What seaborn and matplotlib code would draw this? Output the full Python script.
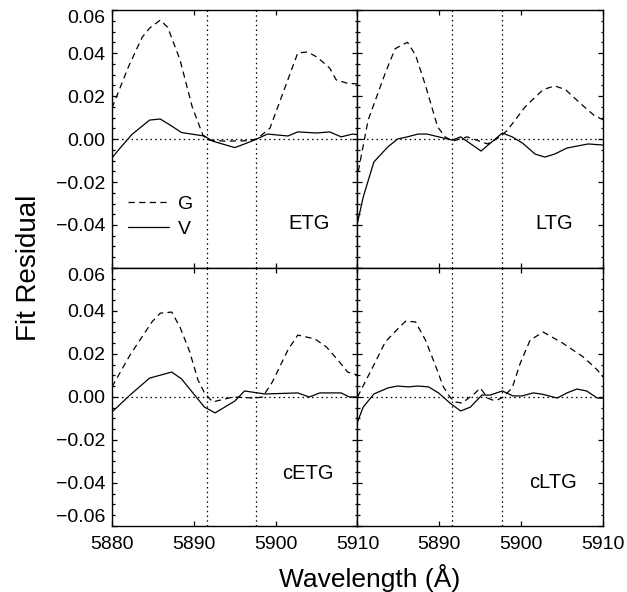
import numpy as np
import pandas as pd
import matplotlib
matplotlib.use("Agg")
import matplotlib.pyplot as plt
import seaborn as sns
from matplotlib.ticker import MultipleLocator, FuncFormatter

# --- data (wavelength in A, fit residual) ---
panels = ['ETG', 'LTG', 'cETG', 'cLTG']

etg_v_wl = [5880.0, 5880.6, 5882.4, 5884.6, 5885.9, 5887.1, 5888.5, 5890.4, 5891.3, 5892.3, 5895.0,
            5896.2, 5897.4, 5899.0, 5901.5, 5902.7, 5905.0, 5906.6, 5908.0, 5909.4, 5910.0]
etg_v = [-0.0088, -0.006, 0.002, 0.0088, 0.0093, 0.0065, 0.003, 0.0019, 0.0014, -0.001, -0.0040,
         -0.0023, -0.0005, 0.0023, 0.0014, 0.0033, 0.0028, 0.0033, 0.001, 0.0023, 0.002]
etg_g_wl = [5880.0, 5882.0, 5883.7, 5884.6, 5885.9, 5886.8, 5888.3, 5889.8, 5891.1, 5891.7, 5893.8,
            5896.5, 5897.7, 5899.3, 5902.7, 5903.9, 5905.1, 5906.6, 5907.4, 5908.7, 5910.0]
etg_g = [0.0144, 0.0335, 0.0474, 0.0516, 0.0553, 0.052, 0.037, 0.015, 0.0019, -0.0005, -0.001,
         -0.0008, 0.0, 0.005, 0.040, 0.0405, 0.038, 0.033, 0.0275, 0.026, 0.0256]

ltg_v_wl = [5880.0, 5880.7, 5882.0, 5883.7, 5884.9, 5886.1, 5887.4, 5888.5, 5889.9, 5891.6, 5892.6,
            5895.1, 5897.7, 5898.9, 5900.2, 5901.7, 5902.9, 5904.1, 5905.6, 5908.2, 5910.0]
ltg_v = [-0.039, -0.027, -0.0107, -0.0037, 0.0, 0.001, 0.0023, 0.0023, 0.001, -0.0005, 0.001,
         -0.0056, 0.0028, 0.001, -0.002, -0.007, -0.0084, -0.007, -0.0042, -0.0023, -0.0028]
ltg_g_wl = [5880.1, 5881.3, 5883.4, 5884.6, 5886.1, 5887.1, 5888.3, 5889.8, 5890.7, 5891.6, 5893.4,
            5895.9, 5897.4, 5898.3, 5900.5, 5902.7, 5904.1, 5905.4, 5907.4, 5909.0, 5910.0]
ltg_g = [-0.015, 0.0088, 0.0307, 0.042, 0.045, 0.039, 0.025, 0.0056, 0.001, -0.001, 0.001,
         -0.0023, 0.001, 0.004, 0.015, 0.023, 0.0247, 0.023, 0.016, 0.0107, 0.009]

cetg_v_wl = [5880.0, 5882.2, 5884.6, 5887.3, 5888.5, 5890.1, 5891.3, 5892.6, 5895.0, 5896.2, 5898.7,
             5902.7, 5904.1, 5905.4, 5908.0, 5909.0, 5910.0]
cetg_v = [-0.007, 0.0009, 0.0088, 0.0116, 0.0084, 0.0009, -0.0047, -0.0074, -0.0019, 0.0028, 0.0014,
          0.0019, 0.0, 0.0019, 0.0019, 0.0, 0.0]
cetg_g_wl = [5880.0, 5882.2, 5884.9, 5885.9, 5887.3, 5888.3, 5889.5, 5890.5, 5891.3, 5892.3, 5894.8,
             5897.4, 5898.4, 5899.6, 5901.5, 5902.7, 5904.8, 5906.2, 5907.6, 5908.8, 5910.0]
cetg_g = [0.0047, 0.0195, 0.035, 0.039, 0.0395, 0.0326, 0.021, 0.008, 0.0019, -0.0023, 0.0,
          -0.0005, 0.0, 0.007, 0.0219, 0.0288, 0.027, 0.0233, 0.0172, 0.0116, 0.0102]

cltg_v_wl = [5880.0, 5880.7, 5882.0, 5883.7, 5884.9, 5886.2, 5887.4, 5888.7, 5889.9, 5891.3, 5892.6,
             5893.8, 5895.2, 5896.2, 5897.7, 5899.0, 5900.1, 5901.5, 5902.7, 5904.4, 5905.6, 5906.8,
             5908.0, 5909.3, 5910.0]
cltg_v = [-0.0116, -0.0047, 0.0014, 0.0042, 0.0051, 0.0047, 0.0051, 0.0047, 0.0019, -0.0028, -0.0065,
          -0.0047, 0.0009, 0.0009, 0.0028, 0.0005, 0.0005, 0.0019, 0.0012, -0.0005, 0.0019, 0.0037,
          0.0028, -0.0005, -0.0005]
cltg_g_wl = [5880.0, 5882.0, 5883.4, 5884.9, 5885.9, 5887.1, 5888.3, 5889.5, 5890.5, 5891.3, 5891.9,
             5892.8, 5894.4, 5895.0, 5895.9, 5896.5, 5897.1, 5897.8, 5898.9, 5899.9, 5901.1, 5902.7,
             5905.1, 5907.6, 5909.3, 5910.0]
cltg_g = [0.0, 0.0149, 0.0256, 0.0316, 0.0353, 0.0349, 0.0265, 0.0149, 0.0047, 0.0, -0.0023,
          -0.0028, 0.0019, 0.0042, -0.0005, -0.0014, -0.0014, 0.0, 0.0042, 0.0158, 0.0265, 0.0302,
          0.025, 0.0186, 0.0126, 0.0093]

na_lines = [5891.6, 5897.6]
xticks = [5880, 5890, 5900, 5910]
yticks = [-0.06, -0.04, -0.02, 0.0, 0.02, 0.04, 0.06]

series = {
    'ETG': {'G': (etg_g_wl, etg_g), 'V': (etg_v_wl, etg_v)},
    'LTG': {'G': (ltg_g_wl, ltg_g), 'V': (ltg_v_wl, ltg_v)},
    'cETG': {'G': (cetg_g_wl, cetg_g), 'V': (cetg_v_wl, cetg_v)},
    'cLTG': {'G': (cltg_g_wl, cltg_g), 'V': (cltg_v_wl, cltg_v)},
}
rows = []
for p, fits in series.items():
    for fit, (wl, res) in fits.items():
        for w, r in zip(wl, res):
            rows.append({'panel': p, 'fit': fit, 'wavelength': w, 'residual': r})
df = pd.DataFrame(rows)

sns.set_style("ticks")
plt.rcParams['font.family'] = ['Liberation Sans', 'DejaVu Sans']
plt.rcParams.update({'text.color': 'black', 'axes.labelcolor': 'black',
                     'xtick.color': 'black', 'ytick.color': 'black', 'axes.edgecolor': 'black'})

fig, axes = plt.subplots(2, 2, figsize=(6.27, 5.92), dpi=100)
fig.subplots_adjust(left=0.1786, right=0.9617, top=0.9831, bottom=0.1115, wspace=0, hspace=0)

label_pos = {'ETG': (0.886, 0.174), 'LTG': (0.878, 0.174), 'cETG': (0.902, 0.205), 'cLTG': (0.894, 0.17)}
fmt = FuncFormatter(lambda v, pos: f"{v:.2f}".replace('-', '\u2212'))
dot = (0, (1.2, 2.6))

for i, (ax, name) in enumerate(zip(axes.flat, panels)):
    sub = df[df.panel == name]
    sns.lineplot(data=sub, x='wavelength', y='residual', style='fit', style_order=['G', 'V'],
                 dashes={'G': (5, 3.5), 'V': ''}, color='black', linewidth=0.9,
                 estimator=None, sort=False, legend=(i == 0), ax=ax)
    for x0 in na_lines:
        ax.axvline(x0, color='black', linestyle=dot, linewidth=0.9)
    ax.axhline(0, color='black', linestyle=dot, linewidth=0.9)

    ax.set_xlim(5880, 5910)
    ax.set_ylim(-0.06, 0.06)
    ax.set_xticks(xticks)
    ax.set_yticks(yticks)
    ax.yaxis.set_minor_locator(MultipleLocator(0.005))
    ax.yaxis.set_major_formatter(fmt)
    ax.set_xlabel('')
    ax.set_ylabel('')
    ax.tick_params(which='both', direction='in', top=True, right=True, labelsize=14, width=0.9,
                   colors='black')
    ax.tick_params(which='major', length=3.6)
    ax.tick_params(which='minor', length=1.8)
    ax.tick_params(axis='x', pad=7.5)
    ax.tick_params(axis='y', pad=5)
    for s in ax.spines.values():
        s.set_linewidth(1.0)
        s.set_color('black')

    row, col = divmod(i, 2)
    if col == 1:
        ax.tick_params(labelleft=False)
    if row == 0:
        ax.tick_params(labelbottom=False)

    tx, ty = label_pos[name]
    ax.text(tx, ty, name, transform=ax.transAxes, ha='right', va='center', fontsize=14.5,
            color='black')

# tick label tweaks: keep the extreme y labels inside the panel
axes[0, 0].set_yticklabels(['', '\u22120.04', '\u22120.02', '0.00', '0.02', '0.04', '0.06'])
axes[1, 0].set_yticklabels(['\u22120.06', '\u22120.04', '\u22120.02', '0.00', '0.02', '0.04', '0.06'])
axes[0, 0].get_yticklabels()[-1].set_va('top')
axes[1, 0].get_yticklabels()[-1].set_va('top')
axes[1, 0].get_yticklabels()[0].set_va('bottom')
axes[1, 1].set_xticklabels(['', '5890', '5900', '5910'])

handles, labels = axes[0, 0].get_legend_handles_labels()
leg = axes[0, 0].legend(handles, labels, loc='center left', bbox_to_anchor=(0.065, 0.2),
                        frameon=False, fontsize=14, handlelength=2.1, handletextpad=0.45,
                        labelspacing=0.36, borderpad=0, borderaxespad=0)
for t in leg.get_texts():
    t.set_color('black')

fig.text(0.046, 0.547, 'Fit Residual', rotation=90, ha='center', va='center', fontsize=20)
fig.text(0.590, 0.024, 'Wavelength (\u00c5)', ha='center', va='center', fontsize=19)

fig.savefig('out.png', dpi=100)
